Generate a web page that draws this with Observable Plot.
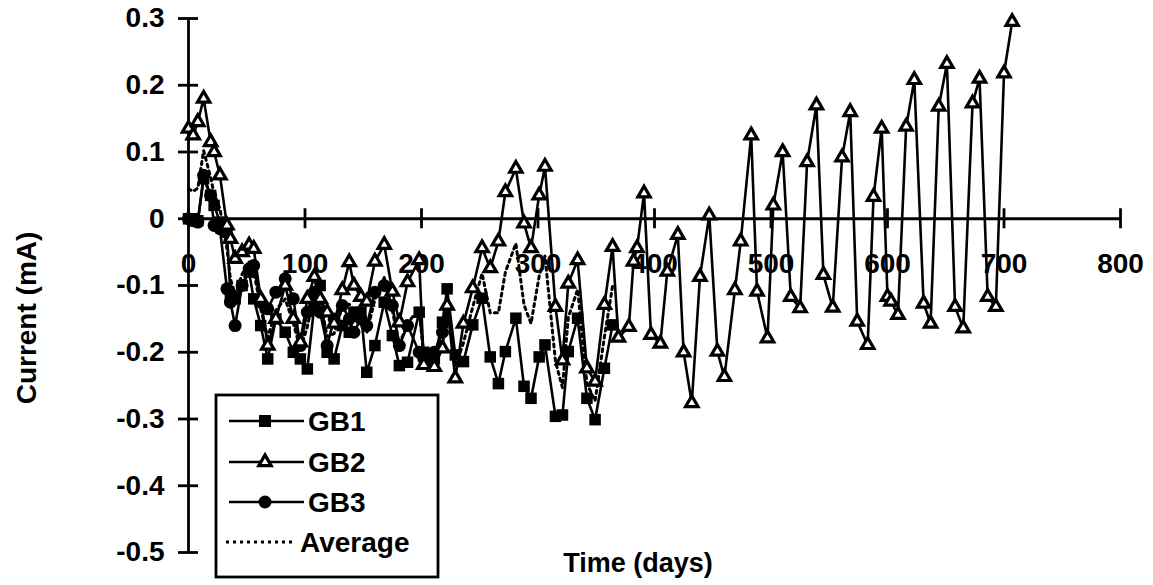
<!DOCTYPE html>
<html>
<head>
<meta charset="utf-8">
<script src="https://cdn.jsdelivr.net/npm/d3@7"></script>
<script src="https://cdn.jsdelivr.net/npm/@observablehq/plot@0.6"></script>
<style>
  html, body { margin: 0; padding: 0; background: #fff; }
  #chart { width: 1153px; height: 585px; }
  text { font-family: "Liberation Sans", Arial, sans-serif; font-weight: bold; }
</style>
</head>
<body>
<div id="chart"></div>
<script>
// ---- data ----
const days = [0,4,8,13,19,22,27,33,36,40,
  46,52,56,62,68,75,83,90,96,102,
  108,113,119,125,132,138,142,148,153,160,
  168,175,181,188,198,202,211,218,222,229,
  236,244,252,259,266,272,281,288,294,301,
  306,315,321,326,334,342,349,357,364,369,
  378,382,385,391,397,405,411,420,425,432,
  439,447,454,460,469,474,483,488,497,502,
  510,517,525,531,539,545,553,561,568,574,
  583,588,595,600,603,609,616,623,631,637,
  644,651,658,665,673,679,686,693,700,707];

const gb1 = [0,0,-0.003,0.06,0.035,0.02,-0.005,-0.02,-0.115,-0.12,
  -0.1,-0.08,-0.12,-0.16,-0.21,-0.15,-0.17,-0.2,-0.21,-0.225,
  -0.13,-0.1,-0.2,-0.21,-0.16,-0.17,-0.14,-0.14,-0.23,-0.19,
  -0.125,-0.175,-0.22,-0.215,-0.14,-0.2,-0.21,-0.155,-0.105,-0.204,
  -0.214,-0.159,-0.119,-0.207,-0.247,-0.199,-0.149,-0.251,-0.269,-0.207,
  -0.189,-0.296,-0.294,-0.199,-0.149,-0.269,-0.301,-0.224,-0.159];

const gb2 = [0.135,0.125,0.145,0.18,0.115,0.1,0.065,-0.01,-0.03,-0.06,
  -0.05,-0.04,-0.045,-0.12,-0.19,-0.15,-0.1,-0.15,-0.185,-0.12,
  -0.087,-0.12,-0.14,-0.157,-0.107,-0.065,-0.1,-0.117,-0.124,-0.064,
  -0.039,-0.109,-0.155,-0.095,-0.062,-0.219,-0.222,-0.194,-0.13,-0.239,
  -0.157,-0.104,-0.044,-0.074,-0.034,0.04,0.075,-0.007,-0.044,0.035,
  0.078,-0.132,-0.212,-0.097,-0.062,-0.224,-0.244,-0.129,-0.042,-0.178,
  -0.162,-0.064,-0.044,0.038,-0.174,-0.187,-0.079,-0.024,-0.2,-0.276,
  -0.087,0.005,-0.199,-0.237,-0.107,-0.034,0.125,-0.109,-0.179,0.02,
  0.1,-0.117,-0.134,0.085,0.17,-0.084,-0.133,0.092,0.16,-0.154,
  -0.189,0.033,0.135,-0.117,-0.124,-0.144,0.138,0.208,-0.127,-0.157,
  0.168,0.232,-0.132,-0.164,0.173,0.21,-0.117,-0.132,0.218,0.295];

const gb3 = [0,-0.003,-0.005,0.065,0.035,-0.01,-0.015,-0.105,-0.125,-0.16,
  -0.1,-0.075,-0.07,-0.125,-0.135,-0.11,-0.09,-0.12,-0.19,-0.14,
  -0.11,-0.14,-0.19,-0.15,-0.13,-0.15,-0.17,-0.15,-0.16,-0.11,
  -0.1,-0.13,-0.19,-0.16,-0.2,-0.21,-0.2,-0.17];

const average = [0.045,0.041,0.046,0.102,0.062,0.037,0.015,-0.045,-0.09,-0.113,
  -0.083,-0.065,-0.078,-0.135,-0.178,-0.137,-0.12,-0.157,-0.195,-0.162,
  -0.109,-0.12,-0.177,-0.172,-0.132,-0.128,-0.137,-0.136,-0.171,-0.121,
  -0.088,-0.138,-0.188,-0.157,-0.134,-0.21,-0.211,-0.173,-0.118,-0.222,
  -0.186,-0.132,-0.082,-0.141,-0.141,-0.08,-0.037,-0.129,-0.157,-0.086,
  -0.056,-0.214,-0.253,-0.148,-0.106,-0.247,-0.273,-0.177,-0.101];

const xTicks = [0,100,200,300,400,500,600,700,800];
const yTicks = [0.3,0.2,0.1,0,-0.1,-0.2,-0.3,-0.4,-0.5];
const yTickLabels = ["0.3","0.2","0.1","0","-0.1","-0.2","-0.3","-0.4","-0.5"];
const seriesNames = ["GB1","GB2","GB3","Average"];

const toRows = (vals) => vals.map((v, i) => ({day: days[i], value: v}));
const rGB1 = toRows(gb1), rGB2 = toRows(gb2), rGB3 = toRows(gb3), rAvg = toRows(average);

const font = "'Liberation Sans', Arial, sans-serif";
const FS = 28;

const chart = Plot.plot({
  width: 1153,
  height: 585,
  marginLeft: 188,
  marginRight: 33,
  marginTop: 18,
  marginBottom: 33,
  style: {fontFamily: font, background: "#fff", overflow: "visible"},
  x: {domain: [0, 800], axis: null},
  y: {domain: [-0.5, 0.3], axis: null},
  marks: [
    // axes
    Plot.ruleY([0], {x1: 0, x2: 800, stroke: "#000", strokeWidth: 2.8}),
    Plot.ruleX([0], {y1: -0.5, y2: 0.3, stroke: "#000", strokeWidth: 2.8}),
    Plot.ruleX(xTicks, {x: d => d, y1: -0.015, y2: 0.015, stroke: "#000", strokeWidth: 2.8}),
    Plot.ruleY(yTicks, {y: d => d, x1: -8.6, x2: 8.6, stroke: "#000", strokeWidth: 2.8}),
    Plot.text(xTicks, {x: d => d, y: 0, text: d => String(d), dy: 45, fontSize: FS, fontWeight: "bold", fill: "#000"}),
    Plot.text(yTicks, {x: 0, y: d => d, text: (d, i) => yTickLabels[i], dx: -24, textAnchor: "end", fontSize: FS, fontWeight: "bold", fill: "#000"}),
    // series lines
    Plot.line(rGB1, {x: "day", y: "value", stroke: "#000", strokeWidth: 2.6}),
    Plot.line(rGB3, {x: "day", y: "value", stroke: "#000", strokeWidth: 2.6}),
    Plot.line(rAvg, {x: "day", y: "value", stroke: "#000", strokeWidth: 3, strokeDasharray: "3,4"}),
    Plot.line(rGB2, {x: "day", y: "value", stroke: "#000", strokeWidth: 2.6}),
    // markers
    Plot.dot(rGB1, {x: "day", y: "value", symbol: "square", r: 6.5, fill: "#000", stroke: "none"}),
    Plot.dot(rGB3, {x: "day", y: "value", symbol: "circle", r: 6.5, fill: "#000", stroke: "none"}),
    Plot.dot(rGB2, {x: "day", y: "value", symbol: "triangle", r: 4.6, fill: "#fff", stroke: "#000", strokeWidth: 3.2})
  ]
});

document.getElementById("chart").appendChild(chart);

// titles and legend added to the SVG
const svg = d3.select(chart);

svg.append("text")
  .attr("transform", "translate(36,318) rotate(-90)")
  .attr("text-anchor", "middle")
  .attr("font-size", FS).attr("font-weight", "bold").attr("fill", "#000")
  .attr("font-family", font)
  .text("Current (mA)");

svg.append("text")
  .attr("x", 638).attr("y", 572)
  .attr("text-anchor", "middle")
  .attr("font-size", 27).attr("font-weight", "bold").attr("fill", "#000")
  .attr("font-family", font)
  .text("Time (days)");

const lg = svg.append("g");
lg.append("rect").attr("x", 216).attr("y", 395).attr("width", 222).attr("height", 182)
  .attr("fill", "#fff").attr("stroke", "#000").attr("stroke-width", 2.8);
const legendY = [421, 462, 502, 542];
seriesNames.forEach((name, i) => {
  const y = legendY[i];
  const line = lg.append("line").attr("x1", 229).attr("x2", 304).attr("y1", y).attr("y2", y)
    .attr("stroke", "#000").attr("stroke-width", 2.6);
  if (name === "Average") line.attr("stroke-width", 3).attr("stroke-dasharray", "3,4").attr("x1", 226).attr("x2", 296);
  if (name === "GB1") lg.append("rect").attr("x", 259).attr("y", y - 6).attr("width", 12).attr("height", 12).attr("fill", "#000");
  if (name === "GB2") lg.append("path").attr("d", d3.symbol(d3.symbolTriangle, Math.PI * 4.6 * 4.6)())
    .attr("transform", `translate(265,${y})`).attr("fill", "#fff").attr("stroke", "#000").attr("stroke-width", 3.2);
  if (name === "GB3") lg.append("circle").attr("cx", 265).attr("cy", y).attr("r", 6.5).attr("fill", "#000");
  lg.append("text").attr("x", name === "Average" ? 300 : 308).attr("y", y + 10)
    .attr("text-anchor", "start")
    .attr("font-size", FS).attr("font-weight", "bold").attr("fill", "#000")
    .attr("font-family", font)
    .text(name);
});
</script>
</body>
</html>
